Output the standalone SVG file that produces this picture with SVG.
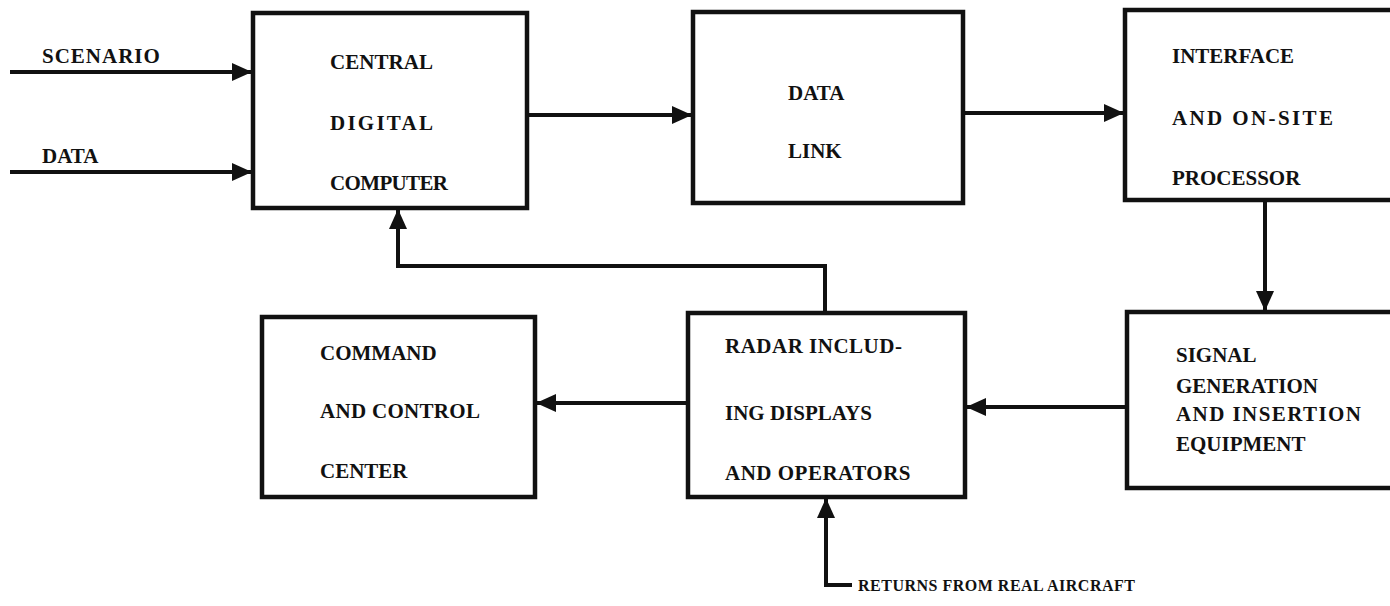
<svg xmlns="http://www.w3.org/2000/svg" width="1390" height="606" viewBox="0 0 1390 606">
<defs>
<style>
.box{fill:none;stroke:#111;stroke-width:4.5;stroke-linejoin:miter}
.t{font-family:"Liberation Serif","DejaVu Serif",serif;font-weight:bold;font-size:21px;fill:#111}
.s{font-family:"Liberation Serif","DejaVu Serif",serif;font-weight:bold;font-size:16px;fill:#111}
.c{fill:none;stroke:#111;stroke-width:4}
</style>
<marker id="ah" markerUnits="userSpaceOnUse" markerWidth="22" markerHeight="20" refX="20" refY="10" orient="auto">
<path d="M0,1 L20,10 L0,19 Z" fill="#111"/>
</marker>
</defs>
<rect width="1390" height="606" fill="#fff"/>
<g id="connectors">
<line class="c" x1="10" y1="72" x2="252" y2="72" marker-end="url(#ah)"/>
<line class="c" x1="10" y1="172" x2="252" y2="172" marker-end="url(#ah)"/>
<line class="c" x1="527" y1="115" x2="692" y2="115" marker-end="url(#ah)"/>
<line class="c" x1="963" y1="113" x2="1124" y2="113" marker-end="url(#ah)"/>
<line class="c" x1="1265" y1="200" x2="1265" y2="311" marker-end="url(#ah)"/>
<line class="c" x1="1127" y1="407" x2="966" y2="407" marker-end="url(#ah)"/>
<line class="c" x1="688" y1="403" x2="536" y2="403" marker-end="url(#ah)"/>
<polyline class="c" points="825,313 825,266 398,266 398,209" marker-end="url(#ah)"/>
<polyline class="c" points="852,585 826,585 826,498" marker-end="url(#ah)"/>
</g>
<g id="input-labels">
<text class="t" x="42" y="63" font-weight="normal" letter-spacing="1">SCENARIO</text>
<text class="t" x="42" y="163">DATA</text>
</g>
<g id="central-digital-computer">
<rect class="box" x="253" y="13" width="274" height="195"/>
<text class="t" x="330" y="69" textLength="103">CENTRAL</text>
<text class="t" x="330" y="130" textLength="103">DIGITAL</text>
<text class="t" x="330" y="190" textLength="118">COMPUTER</text>
</g>
<g id="data-link">
<rect class="box" x="693" y="12" width="270" height="191"/>
<text class="t" x="788" y="100">DATA</text>
<text class="t" x="788" y="158">LINK</text>
</g>
<g id="interface-processor">
<rect class="box" x="1125" y="10" width="275" height="190"/>
<text class="t" x="1172" y="63">INTERFACE</text>
<text class="t" x="1172" y="125" textLength="161">AND ON-SITE</text>
<text class="t" x="1172" y="185">PROCESSOR</text>
</g>
<g id="signal-generation">
<rect class="box" x="1127" y="312" width="275" height="176"/>
<text class="t" x="1176" y="362">SIGNAL</text>
<text class="t" x="1176" y="393">GENERATION</text>
<text class="t" x="1176" y="421" textLength="185">AND INSERTION</text>
<text class="t" x="1176" y="451">EQUIPMENT</text>
</g>
<g id="radar">
<rect class="box" x="688" y="313" width="277" height="184"/>
<text class="t" x="725" y="353" letter-spacing="0.5">RADAR INCLUD-</text>
<text class="t" x="725" y="420">ING DISPLAYS</text>
<text class="t" x="725" y="480" letter-spacing="0.5">AND OPERATORS</text>
</g>
<g id="command-control">
<rect class="box" x="262" y="317" width="273" height="180"/>
<text class="t" x="320" y="360">COMMAND</text>
<text class="t" x="320" y="418" textLength="160">AND CONTROL</text>
<text class="t" x="320" y="478">CENTER</text>
</g>
<g id="returns-label">
<text class="s" x="858" y="591" letter-spacing="0.5">RETURNS FROM REAL AIRCRAFT</text>
</g>
</svg>
